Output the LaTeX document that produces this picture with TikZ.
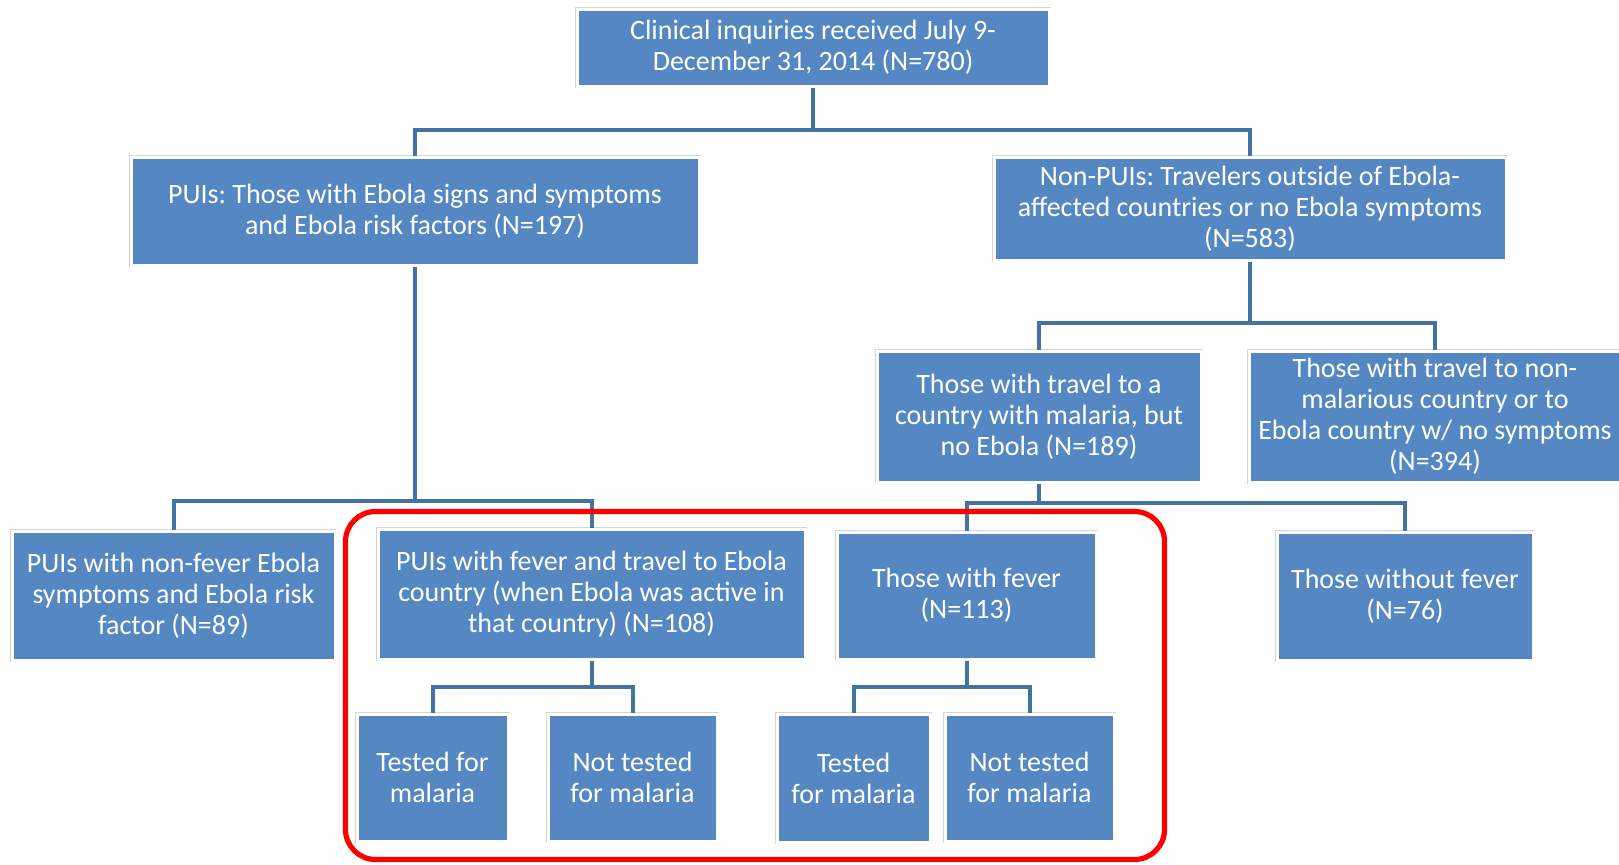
\documentclass[tikz,border=0pt]{standalone}
\usepackage{fontspec}
\setmainfont{Carlito}
\frenchspacing
\definecolor{boxblue}{HTML}{5588C2}
\definecolor{linkblue}{HTML}{44739F}
\definecolor{framegray}{HTML}{D6D6D6}

\begin{document}
\begin{tikzpicture}[x=0.5pt,y=-0.5pt,
  box/.style={rectangle, fill=boxblue, draw=white, line width=1.5pt,
    preaction={draw=framegray, line width=2.4pt},
    text=white, align=center, inner sep=0pt,
    font=\fontsize{14}{15.5}\selectfont},
  boxsize/.style 2 args={minimum width=#1*0.5pt, minimum height=#2*0.5pt},
  link/.style={draw=linkblue, line width=2pt},
  highlight/.style={draw=red, line width=2.6pt, rounded corners=15pt}]
\clip (0,0) rectangle (1619,864);
\fill[white] (0,0) rectangle (1619,864);

% boxes
\node[box,boxsize={472}{77}] (inq) at (813,47.5) {Clinical inquiries received July 9-\\December 31, 2014 (N=780)};
\node[box,boxsize={568}{108}] (pui) at (415,211) {PUIs: Those with Ebola signs and symptoms\\and Ebola risk factors (N=197)};
\node[box,boxsize={512}{103}] (nonpui) at (1250,208.5) {Non-PUIs: Travelers outside of Ebola-\\affected countries or no Ebola symptoms\\(N=583)};
\node[box,boxsize={324}{131}] (mal) at (1039,416.5) {Those with travel to a\\country with malaria, but\\no Ebola (N=189)};
\node[box,boxsize={372}{131}] (nonmal) at (1435,416.5) {Those with travel to non-\\malarious country or to\\Ebola country w/ no symptoms\\(N=394)};
\node[box,boxsize={323}{129}] (nofev) at (173.5,595.5) {PUIs with non-fever Ebola\\symptoms and Ebola risk\\factor (N=89)};
\node[box,boxsize={427}{130}] (puifev) at (591.5,594) {PUIs with fever and travel to Ebola\\country (when Ebola was active in\\that country) (N=108)};
\node[box,boxsize={259}{127}] (fev) at (966.5,595.5) {Those with fever\\(N=113)};
\node[box,boxsize={256}{128}] (nofever) at (1405,596) {Those without fever\\(N=76)};
\node[box,boxsize={151}{127}] (testa) at (432.5,777.5) {Tested for\\malaria};
\node[box,boxsize={169}{127}] (nottesta) at (632.5,777.5) {Not tested\\for malaria};
\node[box,boxsize={153}{128}] (testb) at (853.5,778) {Tested\\for malaria};
\node[box,boxsize={169}{127}] (nottestb) at (1029.5,777.5) {Not tested\\for malaria};

% forks
\coordinate (f1) at (813,130);
\coordinate (f2) at (1250,323);
\coordinate (f3) at (415,501);
\coordinate (f4) at (1039,503);
\coordinate (f5) at (591.5,687);
\coordinate (f6) at (966.5,687);

\draw[link] (inq.south) -- (f1) -| (pui.north);
\draw[link] (f1) -| (nonpui.north);
\draw[link] (nonpui.south) -- (f2) -| (mal.north);
\draw[link] (f2) -| (nonmal.north);
\draw[link] (pui.south) -- (f3) -| (nofev.north);
\draw[link] (f3) -| (puifev.north);
\draw[link] (mal.south) -- (f4) -| (fev.north);
\draw[link] (f4) -| (nofever.north);
\draw[link] (puifev.south) -- (f5) -| (testa.north);
\draw[link] (f5) -| (nottesta.north);
\draw[link] (fev.south) -- (f6) -| (testb.north);
\draw[link] (f6) -| (nottestb.north);

\draw[highlight] (345.5,511.5) rectangle (1164.5,859.5);
\end{tikzpicture}
\end{document}
